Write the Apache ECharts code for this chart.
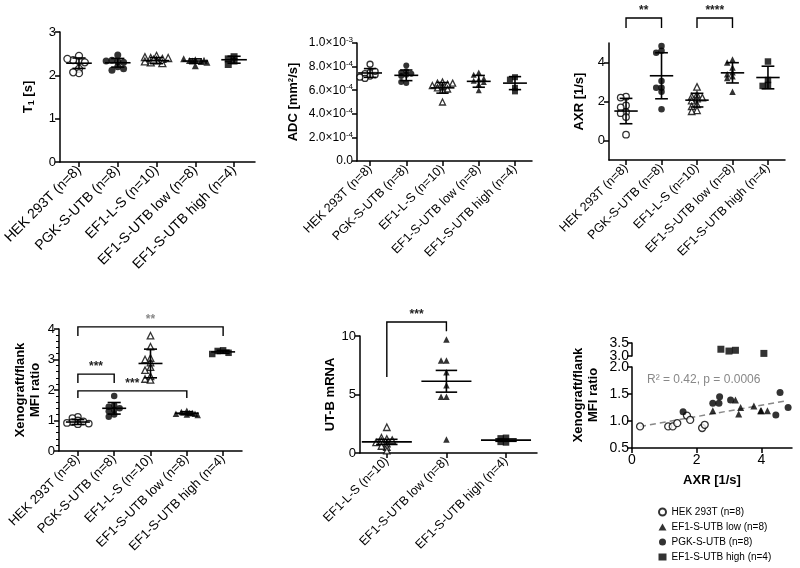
<!DOCTYPE html>
<html>
<head>
<meta charset="utf-8">
<script src="https://cdn.jsdelivr.net/npm/echarts@6/dist/echarts.min.js"></script>
<style>html,body{margin:0;background:#fff}#chart{width:800px;height:568px}</style>
</head>
<body>
<div id="chart"></div>
<script>
// group names
const catNames = ['HEK 293T (n=8)', 'PGK-S-UTB (n=8)', 'EF1-L-S (n=10)', 'EF1-S-UTB low (n=8)', 'EF1-S-UTB high (n=4)']
const utbNames = ['EF1-L-S (n=10)', 'EF1-S-UTB low (n=8)', 'EF1-S-UTB high (n=4)']

// T1 [s]
const t1Hek = [2.33, 2.35, 2.30, 2.45, 2.38, 2.15, 2.05, 2.07]
const t1Pgk = [2.32, 2.35, 2.30, 2.47, 2.20, 2.12, 2.15, 2.33]
const t1Ls = [2.45, 2.40, 2.38, 2.42, 2.35, 2.30, 2.28, 2.32, 2.40, 2.36]
const t1Low = [2.36, 2.34, 2.32, 2.38, 2.30, 2.33, 2.22, 2.35]
const t1High = [2.43, 2.38, 2.33, 2.25]
const t1Mean = [2.28, 2.29, 2.34, 2.33, 2.36]
const t1Sd = [0.12, 0.10, 0.07, 0.05, 0.08]

// ADC [mm2/s]
const adcHek = [8.2e-4, 7.5e-4, 7.4e-4, 7.3e-4, 7.6e-4, 7.2e-4, 7.0e-4, 7.1e-4]
const adcPgk = [8.1e-4, 7.6e-4, 7.5e-4, 7.3e-4, 7.2e-4, 6.6e-4, 6.7e-4, 7.4e-4]
const adcLs = [6.7e-4, 6.6e-4, 6.5e-4, 6.3e-4, 6.2e-4, 6.1e-4, 6.0e-4, 6.4e-4, 6.6e-4, 5.0e-4]
const adcLow = [7.5e-4, 7.3e-4, 6.9e-4, 6.8e-4, 6.7e-4, 6.5e-4, 6.0e-4, 7.0e-4]
const adcHigh = [7.1e-4, 6.9e-4, 6.2e-4, 5.9e-4]
const adcMean = [7.46e-4, 7.26e-4, 6.2e-4, 6.75e-4, 6.6e-4]
const adcSd = [0.37e-4, 0.45e-4, 0.45e-4, 0.5e-4, 0.55e-4]

// AXR [1/s]
const axrHek = [2.25, 2.2, 1.8, 1.7, 1.45, 1.4, 1.2, 0.3]
const axrPgk = [4.85, 4.6, 4.5, 3.05, 2.7, 2.7, 2.5, 1.6]
const axrLs = [2.75, 2.35, 2.25, 2.2, 2.15, 2.05, 1.85, 1.75, 1.55, 1.5]
const axrLow = [4.15, 4.0, 3.75, 3.5, 3.4, 3.3, 3.2, 2.5]
const axrHigh = [4.05, 3.1, 2.85, 2.8]
const axrMean = [1.51, 3.32, 2.07, 3.47, 3.23]
const axrSd = [0.65, 1.18, 0.35, 0.52, 0.58]

// Xenograft/flank MFI ratio
const mfiHek = [1.12, 1.08, 1.0, 0.97, 0.95, 0.92, 0.9, 0.88]
const mfiPgk = [1.8, 1.5, 1.45, 1.4, 1.35, 1.3, 1.2, 1.12]
const mfiLs = [3.78, 3.42, 3.05, 3.0, 2.9, 2.75, 2.65, 2.45, 2.36, 2.33]
const mfiLow = [1.32, 1.28, 1.25, 1.22, 1.2, 1.18, 1.25, 1.22]
const mfiHigh = [3.3, 3.28, 3.22, 3.18]
const mfiMean = [0.95, 1.40, 2.87, 1.24, 3.25]
const mfiSd = [0.08, 0.19, 0.47, 0.05, 0.05]

// UT-B mRNA (mean ± SEM)
const utbLs = [2.2, 1.2, 1.3, 1.1, 1.0, 0.9, 0.8, 0.5, 0.6, 0.2]
const utbLow = [9.7, 7.9, 7.9, 6.9, 5.8, 4.8, 4.8, 1.15]
const utbHigh = [1.3, 1.25, 0.9, 0.95]
const utbMean = [0.95, 6.13, 1.1]
const utbSem = [0.22, 0.93, 0.1]

// correlation AXR vs MFI ratio
const scHekX = [0.25, 1.12, 1.26, 1.4, 1.7, 1.8, 2.17, 2.25]
const scHekY = [0.9, 0.9, 0.9, 0.96, 1.1, 1.02, 0.87, 0.93]
const scPgkX = [1.58, 2.5, 2.69, 2.71, 3.05, 4.58, 4.45, 4.83]
const scPgkY = [1.17, 1.33, 1.33, 1.45, 1.39, 1.53, 1.11, 1.25]
const scLowX = [2.5, 3.2, 3.3, 3.36, 3.77, 3.98, 4.19, 4.0]
const scLowY = [1.19, 1.39, 1.13, 1.25, 1.28, 1.19, 1.19, 1.19]
const scHighX = [2.75, 3.0, 3.2, 4.08]
const scHighY = [3.26, 3.19, 3.22, 3.1]
const fitX = [0.25, 4.75]
const fitSlope = 0.105
const fitIntercept = 0.872

// significance brackets: [from, to, top, leftEnd, rightEnd]
const axrBrackets = [[0, 1, 6.28, 5.77, 5.77], [2, 3, 6.28, 5.77, 5.77]]
const axrStars = ['**', '****']
const mfiBrackets = [[0, 4, 4.07, 3.77, 3.77], [0, 1, 2.52, 2.23, 2.23], [0, 3, 1.97, 1.74, 1.74]]
const mfiStars = ['**', '***', '***']
const utbBrackets = [[0, 1, 11.2, 6.5, 10.4]]
const utbStars = ['***']

const FONT = '"Liberation Sans", Arial, Helvetica, sans-serif'
const chart = echarts.init(document.getElementById('chart'))

const SYM = {
  hek: {symbol: 'circle', open: true},
  pgk: {symbol: 'circle', open: false},
  ls: {symbol: 'triangle', open: true},
  low: {symbol: 'triangle', open: false},
  high: {symbol: 'rect', open: false}
}

// small beeswarm: put points side by side when they would overlap
function swarm(vals, step, tol){
  const placed = []
  return vals.map((v, i) => {
    let off = null
    for(let k = 0; k < 5; k++){
      const o = (k % 2 ? -1 : 1) * Math.ceil(k / 2) * step
      if(!placed.some(p => Math.abs(p.o - o) < step * 0.5 && Math.abs(p.v - v) < tol)){
        off = o
        break
      }
    }
    if(off === null) off = ((i % 4) - 1.5) * step
    placed.push({o: off, v})
    return off
  })
}

function symStyle(key){
  return SYM[key].open ? {color: '#fff', borderColor: '#000', borderWidth: 1.3} : {color: '#000'}
}

function dots(ax, idx, vals, key, size, step, tol){
  const off = swarm(vals, step, tol)
  return {
    type: 'scatter', xAxisIndex: ax, yAxisIndex: ax, symbol: SYM[key].symbol, symbolSize: size,
    itemStyle: symStyle(key), silent: true, z: 3,
    data: vals.map((v, i) => [idx + off[i], v])
  }
}

function errBars(ax, means, errs, halfMean, halfCap){
  return {
    type: 'custom', xAxisIndex: ax, yAxisIndex: ax, silent: true, clip: false, z: 4,
    data: means.map((m, i) => [i, m, errs[i]]),
    renderItem(params, api){
      const x = api.value(0), m = api.value(1), e = api.value(2)
      const u = api.size([1, 0])[0]
      const c = api.coord([x, m]), t = api.coord([x, m + e]), b = api.coord([x, m - e])
      const st = {stroke: '#000', lineWidth: 1.6}
      const ln = (x1, y1, x2, y2) => ({type: 'line', shape: {x1, y1, x2, y2}, style: st})
      return {type: 'group', children: [
        ln(c[0] - halfMean * u, c[1], c[0] + halfMean * u, c[1]),
        ln(t[0], t[1], b[0], b[1]),
        ln(t[0] - halfCap * u, t[1], t[0] + halfCap * u, t[1]),
        ln(b[0] - halfCap * u, b[1], b[0] + halfCap * u, b[1])
      ]}
    }
  }
}

function brackets(ax, data, stars, starColors){
  return {
    type: 'custom', xAxisIndex: ax, yAxisIndex: ax, silent: true, clip: false, z: 4,
    data: data,
    renderItem(params, api){
      const a = api.coord([api.value(0), api.value(2)])
      const b = api.coord([api.value(1), api.value(2)])
      const a2 = api.coord([api.value(0), api.value(3)])
      const b2 = api.coord([api.value(1), api.value(4)])
      return {type: 'group', children: [
        {type: 'polyline', shape: {points: [a2, a, b, b2]}, style: {stroke: '#000', lineWidth: 1.4, fill: null}},
        {type: 'text', x: (a[0] + b[0]) / 2, y: a[1] - 1, style: {
          text: stars[params.dataIndex], fill: starColors ? starColors[params.dataIndex] : '#222',
          font: 'bold 12px ' + FONT, align: 'center', verticalAlign: 'bottom'}}
      ]}
    }
  }
}

const axisLine = {show: true, onZero: false, lineStyle: {color: '#000', width: 1.5}}
const tickStyle = {color: '#000', width: 1.5}

function catX(grid, min, max, names, fs){
  const vals = names.map((_, i) => i)
  return {
    type: 'value', gridIndex: grid, min, max, splitLine: {show: false}, axisLine,
    axisTick: {show: true, customValues: vals, length: 5, lineStyle: tickStyle},
    axisLabel: {customValues: vals, formatter: v => names[Math.round(v)], rotate: 45,
      fontSize: fs, color: '#000', fontFamily: FONT, margin: 6}
  }
}

function valY(grid, min, max, interval, fs, name, gap, extra){
  return Object.assign({
    type: 'value', gridIndex: grid, position: 'left', min, max, interval, splitLine: {show: false}, axisLine,
    axisTick: {show: true, length: 5, lineStyle: tickStyle},
    axisLabel: {fontSize: fs, color: '#000', fontFamily: FONT, margin: 4, hideOverlap: false},
    name, nameLocation: 'middle', nameGap: gap,
    nameTextStyle: {fontSize: 13, fontWeight: 'bold', color: '#000', fontFamily: FONT, lineHeight: 15}
  }, extra || {})
}

const series = []
// panel 1
;[[t1Hek, 'hek'], [t1Pgk, 'pgk'], [t1Ls, 'ls'], [t1Low, 'low'], [t1High, 'high']].forEach((g, i) => {
  series.push(dots(0, i, g[0], g[1], 7, 0.15, 0.09))
})
series.push(errBars(0, t1Mean, t1Sd, 0.33, 0.17))
// panel 2
;[[adcHek, 'hek'], [adcPgk, 'pgk'], [adcLs, 'ls'], [adcLow, 'low'], [adcHigh, 'high']].forEach((g, i) => {
  series.push(dots(1, i, g[0], g[1], 6, 0.14, 0.28e-4))
})
series.push(errBars(1, adcMean, adcSd, 0.33, 0.17))
// panel 3
;[[axrHek, 'hek'], [axrPgk, 'pgk'], [axrLs, 'ls'], [axrLow, 'low'], [axrHigh, 'high']].forEach((g, i) => {
  series.push(dots(2, i, g[0], g[1], 6.5, 0.15, 0.18))
})
series.push(errBars(2, axrMean, axrSd, 0.33, 0.18))
series.push(brackets(2, axrBrackets, axrStars))
// panel 4
;[[mfiHek, 'hek'], [mfiPgk, 'pgk'], [mfiLs, 'ls'], [mfiLow, 'low'], [mfiHigh, 'high']].forEach((g, i) => {
  series.push(dots(3, i, g[0], g[1], 6.5, 0.15, 0.12))
})
series.push(errBars(3, mfiMean, mfiSd, 0.33, 0.18))
series.push(brackets(3, mfiBrackets, mfiStars, ['#888', '#222', '#222']))
// panel 5
;[[utbLs, 'ls'], [utbLow, 'low'], [utbHigh, 'high']].forEach((g, i) => {
  series.push(dots(4, i, g[0], g[1], 6.5, 0.09, 0.3))
})
series.push(errBars(4, utbMean, utbSem, 0.42, 0.18))
series.push(brackets(4, utbBrackets, utbStars))
// panel 6
function corr(name, xs, ys, key, ax){
  return {
    name, type: 'scatter', xAxisIndex: ax, yAxisIndex: ax, symbol: SYM[key].symbol, symbolSize: 7,
    itemStyle: symStyle(key), silent: true, z: 3, data: xs.map((x, i) => [x, ys[i]])
  }
}
series.push(corr('HEK 293T (n=8)', scHekX, scHekY, 'hek', 5))
series.push(corr('EF1-S-UTB low (n=8)', scLowX, scLowY, 'low', 5))
series.push(corr('PGK-S-UTB (n=8)', scPgkX, scPgkY, 'pgk', 5))
series.push(corr('EF1-S-UTB high (n=4)', scHighX, scHighY, 'high', 6))
series.push({
  type: 'line', xAxisIndex: 5, yAxisIndex: 5, silent: true, symbol: 'none', z: 2,
  lineStyle: {color: '#888', width: 1.5, type: [6, 4]},
  data: fitX.map(x => [x, fitIntercept + fitSlope * x])
})

const brokenLabel = {fontSize: 14, color: '#000', fontFamily: FONT, margin: 3, hideOverlap: false, formatter: v => v.toFixed(1)}

const option = {
  backgroundColor: '#fff',
  animation: false,
  textStyle: {fontFamily: FONT},
  grid: [
    {left: 60, top: 32, width: 195, height: 130, outerBoundsMode: 'none'},
    {left: 357, top: 43, width: 175, height: 118, outerBoundsMode: 'none'},
    {left: 609, top: 43, width: 176, height: 117, outerBoundsMode: 'none'},
    {left: 59, top: 329, width: 183, height: 122, outerBoundsMode: 'none'},
    {left: 360, top: 336, width: 177, height: 117, outerBoundsMode: 'none'},
    {left: 632, top: 367, width: 160, height: 81, outerBoundsMode: 'none'},
    {left: 632, top: 343, width: 160, height: 13, outerBoundsMode: 'none'}
  ],
  xAxis: [
    catX(0, -0.49, 4.54, catNames, 14),
    catX(1, -0.36, 4.47, catNames, 12.5),
    catX(2, -0.48, 4.48, catNames, 12.5),
    catX(3, -0.52, 4.52, catNames, 13),
    catX(4, -0.45, 2.52, utbNames, 12.5),
    {type: 'value', gridIndex: 5, min: 0, max: 4.95, interval: 2, splitLine: {show: false}, axisLine,
      axisTick: {show: true, length: 5, lineStyle: tickStyle},
      axisLabel: {fontSize: 14, color: '#000', fontFamily: FONT, margin: 5, showMaxLabel: false},
      name: 'AXR [1/s]', nameLocation: 'middle', nameGap: 26,
      nameTextStyle: {fontSize: 13, fontWeight: 'bold', color: '#000', fontFamily: FONT}},
    {type: 'value', gridIndex: 6, min: 0, max: 4.95, show: false}
  ],
  yAxis: [
    valY(0, 0, 3, 1, 13, '{t|T}{s|1}{t| [s]}', 24, {
      nameTextStyle: {rich: {
        t: {fontSize: 13, fontWeight: 'bold', color: '#000', fontFamily: FONT},
        s: {fontSize: 9, fontWeight: 'bold', color: '#000', fontFamily: FONT, verticalAlign: 'bottom', padding: [6, 0, 0, 0]}
      }}
    }),
    valY(1, 0, 1e-3, 2e-4, 12, 'ADC [mm²/s]', 56, {
      axisLabel: {
        margin: 4,
        formatter: v => {
          if(v === 0) return '{m|0.0}'
          const e = Math.floor(Math.log10(v) + 1e-9)
          return '{m|' + (v / Math.pow(10, e)).toFixed(1) + '×10}{e|' + e + '}'
        },
        rich: {
          m: {fontSize: 12, color: '#000', fontFamily: FONT, lineHeight: 14},
          e: {fontSize: 8, color: '#000', fontFamily: FONT, verticalAlign: 'top'}
        }
      }
    }),
    valY(2, -1, 5, null, 13, 'AXR [1/s]', 22, {
      axisTick: {show: true, length: 5, lineStyle: tickStyle, customValues: [0, 2, 4]},
      axisLabel: {fontSize: 13, color: '#000', fontFamily: FONT, margin: 4, customValues: [0, 2, 4]}
    }),
    valY(3, 0, 4, 1, 13, 'Xenograft/flank\nMFI ratio', 16, {
      minorTick: {show: true, splitNumber: 5, length: 3, lineStyle: {color: '#000', width: 1}}
    }),
    valY(4, 0, 10, 5, 13, 'UT-B mRNA', 22),
    valY(5, 0.5, 2.0, 0.5, 14, '', 0, {axisLabel: brokenLabel}),
    // upper segment of the broken axis: line, ticks and the 3.5 label
    valY(6, 3.0, 3.5, 0.5, 14, '', 0, {
      axisTick: {show: true, length: 5, lineStyle: tickStyle, customValues: [3.0, 3.5]},
      axisLabel: Object.assign({customValues: [3.5]}, brokenLabel)
    }),
    // second copy only to carry the 3.0 label (overlaps the 3.5 one otherwise)
    {type: 'value', gridIndex: 6, position: 'left', min: 3.0, max: 3.5, splitLine: {show: false},
      axisLine: {show: false}, axisTick: {show: false},
      axisLabel: Object.assign({customValues: [3.0]}, brokenLabel)}
  ],
  legend: {
    data: ['HEK 293T (n=8)', 'EF1-S-UTB low (n=8)', 'PGK-S-UTB (n=8)', 'EF1-S-UTB high (n=4)'],
    orient: 'vertical', left: 653, top: 502, itemGap: 5, itemWidth: 8, itemHeight: 7,
    selectedMode: false, textStyle: {fontSize: 10, color: '#000', fontFamily: FONT}
  },
  graphic: [
    {type: 'text', x: 586, y: 395, rotation: Math.PI / 2, style: {
      text: 'Xenograft/flank\nMFI ratio', font: 'bold 13px ' + FONT, fill: '#000',
      align: 'center', verticalAlign: 'middle', lineHeight: 15}},
    {type: 'text', x: 647, y: 380, style: {
      text: 'R² = 0.42, p = 0.0006', font: '12px ' + FONT, fill: '#888', verticalAlign: 'middle'}}
  ],
  series
}

chart.setOption(option)
</script>
</body>
</html>
